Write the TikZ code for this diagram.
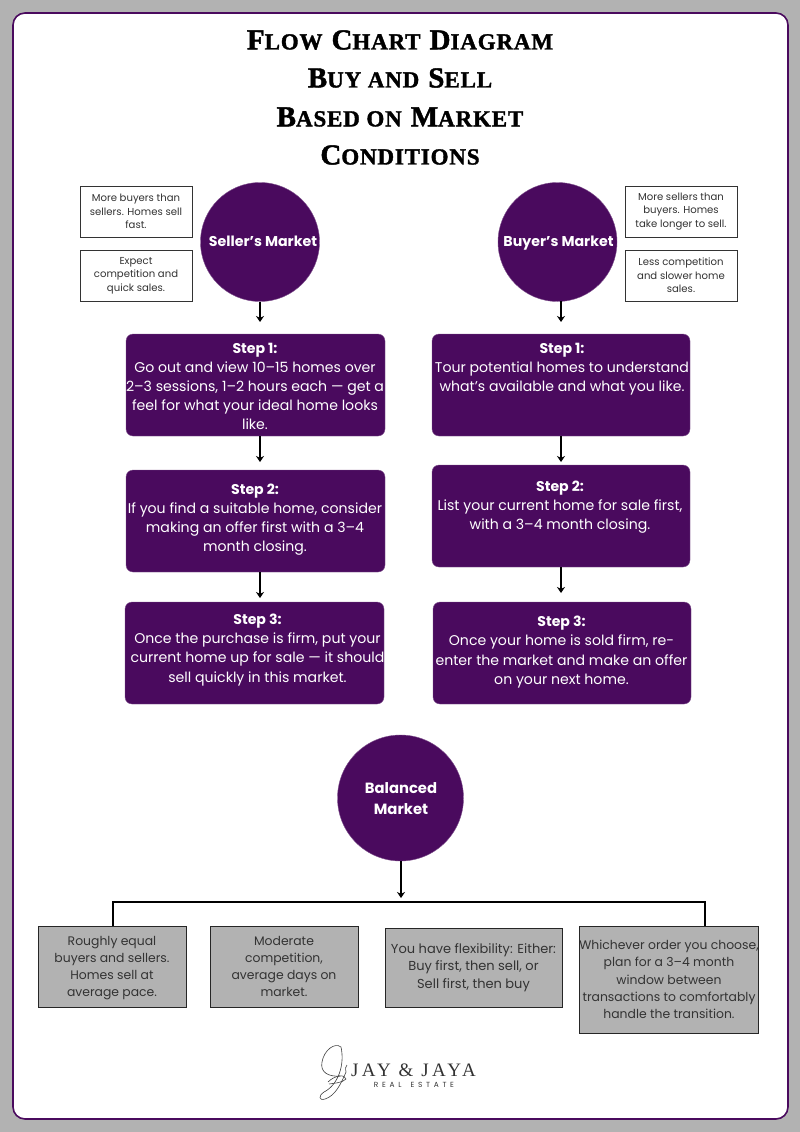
\documentclass[tikz,border=0pt]{standalone}
\usepackage{fontspec}
\setmainfont{Poppins}
\newfontfamily\titlefont[LetterSpace=3.6,BoldFeatures={FakeBold=1.5}]{Liberation Serif}
\newfontfamily\logofont{Liberation Serif}
\definecolor{plum}{HTML}{4A0A5E}
\definecolor{pagegray}{HTML}{B2B2B2}
\definecolor{inkgray}{HTML}{333333}
\newcommand{\Tl}[2]{{\fontsize{29}{29}\selectfont #1}{\fontsize{23}{23}\selectfont #2}}
\newcommand{\Tg}{\hspace{9pt}}
\usetikzlibrary{arrows.meta}
\tikzset{
  x=1pt,y=-1pt,
  bubble/.style={circle,fill=plum,draw=plum!70!white,line width=.4pt,inner sep=0pt},
  stepbox/.style={rectangle,rounded corners=7pt,fill=plum,draw=plum!70!white,line width=.4pt,inner sep=0pt},
  steptext/.style={text=white,align=center,inner sep=0pt,font=\fontsize{14.1}{19.1}\selectfont},
  bubbletext/.style={text=white,align=center,inner sep=0pt,font=\bfseries\fontsize{14.2}{21}\selectfont},
  notebox/.style={rectangle,fill=white,draw=inkgray,line width=.8pt,inner sep=0pt,text=inkgray,align=center,font=\fontsize{10.1}{13.5}\selectfont},
  graybox/.style={rectangle,fill=pagegray,draw=black!85,line width=.8pt,inner sep=0pt,text=inkgray,align=center,font=\fontsize{12.4}{17.2}\selectfont},
  graytext/.style={inner sep=0pt,text=inkgray,align=center,font=\fontsize{12.4}{17.2}\selectfont},
  flow/.style={draw=black,line width=1.6pt,-{Stealth[length=6pt,width=8pt]}},
  bracket/.style={draw=black,line width=1.6pt},
  titleline/.style={inner sep=0pt,font=\titlefont\bfseries},
}
\begin{document}
\begin{tikzpicture}
\useasboundingbox (0,0) rectangle (800,1132);
\fill[pagegray] (0,0) rectangle (800,1132);
\draw[plum,line width=1.6pt,fill=white,rounded corners=12pt] (13,13) rectangle (788,1119);

% title
\node[titleline] (t1) at (400,40) {\Tl{F}{LOW}\Tg\Tl{C}{HART}\Tg\Tl{D}{IAGRAM}};
\node[titleline] (t2) at (400,78) {\Tl{B}{UY AND}\Tg\Tl{S}{ELL}};
\node[titleline] (t3) at (400,117) {\Tl{B}{ASED ON}\Tg\Tl{M}{ARKET}};
\node[titleline] (t4) at (400,155) {\Tl{C}{ONDITIONS}};

% market bubbles
\node[bubble,minimum size=119pt] (seller) at (260,242) {};
\node[bubbletext] (sellerT) at (263,241.5) {Seller’s Market};
\node[bubble,minimum size=119pt] (buyer) at (557.5,242) {};
\node[bubbletext] (buyerT) at (558.5,243.5) {Buyer’s Market};
\node[bubble,minimum size=126pt] (balanced) at (400.5,798) {};
\node[bubbletext,font=\bfseries\fontsize{14.8}{21}\selectfont] (balancedT) at (401,799) {Balanced\\Market};

% note boxes
\node[notebox,minimum width=112pt,minimum height=51pt] (n1) at (136,211.5) {More buyers than\\sellers. Homes sell\\fast.};
\node[notebox,minimum width=112pt,minimum height=51pt] (n2) at (136,275.5) {Expect\\competition and\\quick sales.};
\node[notebox,minimum width=112pt,minimum height=51pt] (n3) at (681,211.5) {More sellers than\\buyers. Homes\\take longer to sell.};
\node[notebox,minimum width=112pt,minimum height=51pt] (n4) at (681,275.5) {Less competition\\and slower home\\sales.};

% step boxes left
\node[stepbox,minimum width=259pt,minimum height=102pt] (ls1) at (255.5,385) {};
\node[stepbox,minimum width=259pt,minimum height=102pt] (ls2) at (255.5,521) {};
\node[stepbox,minimum width=259pt,minimum height=102pt] (ls3) at (254.5,653) {};
% step boxes right
\node[stepbox,minimum width=258pt,minimum height=102pt] (rs1) at (561,385) {};
\node[stepbox,minimum width=258pt,minimum height=102pt] (rs2) at (561,516) {};
\node[stepbox,minimum width=258pt,minimum height=102pt] (rs3) at (562,653) {};

% step texts
\node[steptext] (ls1T) at (255,386.5) {\textbf{Step 1:}\\Go out and view 10–15 homes over\\2–3 sessions, 1–2 hours each — get a\\feel for what your ideal home looks\\like.};
\node[steptext] (ls2T) at (255,519.5) {\textbf{Step 2:}\\If you find a suitable home, consider\\making an offer first with a 3–4\\month closing.};
\begin{scope}
\clip (125,602) rectangle (384,704);
\node[steptext] (ls3T) at (257.5,650) {\textbf{Step 3:}\\Once the purchase is firm, put your\\current home up for sale — it should\\sell quickly in this market.};
\end{scope}
\node[steptext] (rs1T) at (562,369.5) {\textbf{Step 1:}\\Tour potential homes to understand\\what's available and what you like.};
\node[steptext] (rs2T) at (560,507) {\textbf{Step 2:}\\List your current home for sale first,\\with a 3–4 month closing.};
\node[steptext] (rs3T) at (561.5,652) {\textbf{Step 3:}\\Once your home is sold firm, re-\\enter the market and make an offer\\on your next home.};

% gray boxes
\node[graybox,minimum width=148pt,minimum height=81pt] (g1) at (112,966.5) {};
\node[graytext] (g1T) at (112,968) {Roughly equal\\buyers and sellers.\\Homes sell at\\average pace.};
\node[graybox,minimum width=148pt,minimum height=81pt] (g2) at (284,966.5) {Moderate\\competition,\\average days on\\market.};
\node[graybox,minimum width=177pt,minimum height=79pt,font=\fontsize{13}{17.4}\selectfont] (g3) at (473.5,967.5) {You have flexibility: Either:\\Buy first, then sell, or\\Sell first, then buy};
\node[graybox,minimum width=178pt,minimum height=107pt] (g4) at (669,979.5) {Whichever order you choose,\\plan for a 3–4 month\\window between\\transactions to comfortably\\handle the transition.};

% arrows
\coordinate (a1) at (260,322);
\coordinate (a2) at (561,322);
\coordinate (a3) at (260,462);
\coordinate (a4) at (260,598);
\coordinate (a5) at (561,462);
\coordinate (a6) at (561,593);
\coordinate (a7) at (401,898);
\coordinate (ls1b) at (260,436);
\coordinate (ls2b) at (260,572);
\coordinate (rs1b) at (561,436);
\coordinate (rs2b) at (561,567);
\coordinate (buyb) at (561,301);
\coordinate (balb) at (401,861);
\draw[flow] (seller.south) -- (a1);
\draw[flow] (buyb) -- (a2);
\draw[flow] (ls1b) -- (a3);
\draw[flow] (ls2b) -- (a4);
\draw[flow] (rs1b) -- (a5);
\draw[flow] (rs2b) -- (a6);
\draw[flow] (balb) -- (a7);

% bracket
\coordinate (bl) at (113,902);
\coordinate (br) at (705,902);
\coordinate (blb) at (113,926);
\coordinate (brb) at (705,926);
\draw[bracket,line join=miter] (blb) -- (bl) -- (br) -- (brb);

% logo
\begin{scope}[draw=black!75,line width=.6pt]
\draw (341,1047) .. controls (335,1042) and (324,1050) .. (322,1062)
  .. controls (320,1072) and (328,1077) .. (340,1076);
\draw (341,1047) .. controls (345,1065) and (338,1085) .. (324,1092)
  .. controls (318,1096) and (319,1101) .. (325,1099)
  .. controls (335,1096) and (341,1084) .. (346,1072);
\draw (328,1082) .. controls (335,1075) and (345,1074) .. (346,1079)
  .. controls (342,1083) and (335,1083) .. (329,1084);
\draw (346,1072) .. controls (345,1068) and (346,1066) .. (347,1065);
\end{scope}
\node[inner sep=0pt,text=black!80,font=\logofont\fontsize{19}{19}\selectfont,anchor=base west] (logoA) at (351,1076.5) {\addfontfeatures{LetterSpace=17}JAY \& JAYA};
\node[inner sep=0pt,text=black!80,font=\fontsize{7.4}{7.4}\selectfont,anchor=base] (logoB) at (414,1087) {\addfontfeatures{LetterSpace=50}REAL\hspace{9pt}ESTATE};
\end{tikzpicture}
\end{document}
